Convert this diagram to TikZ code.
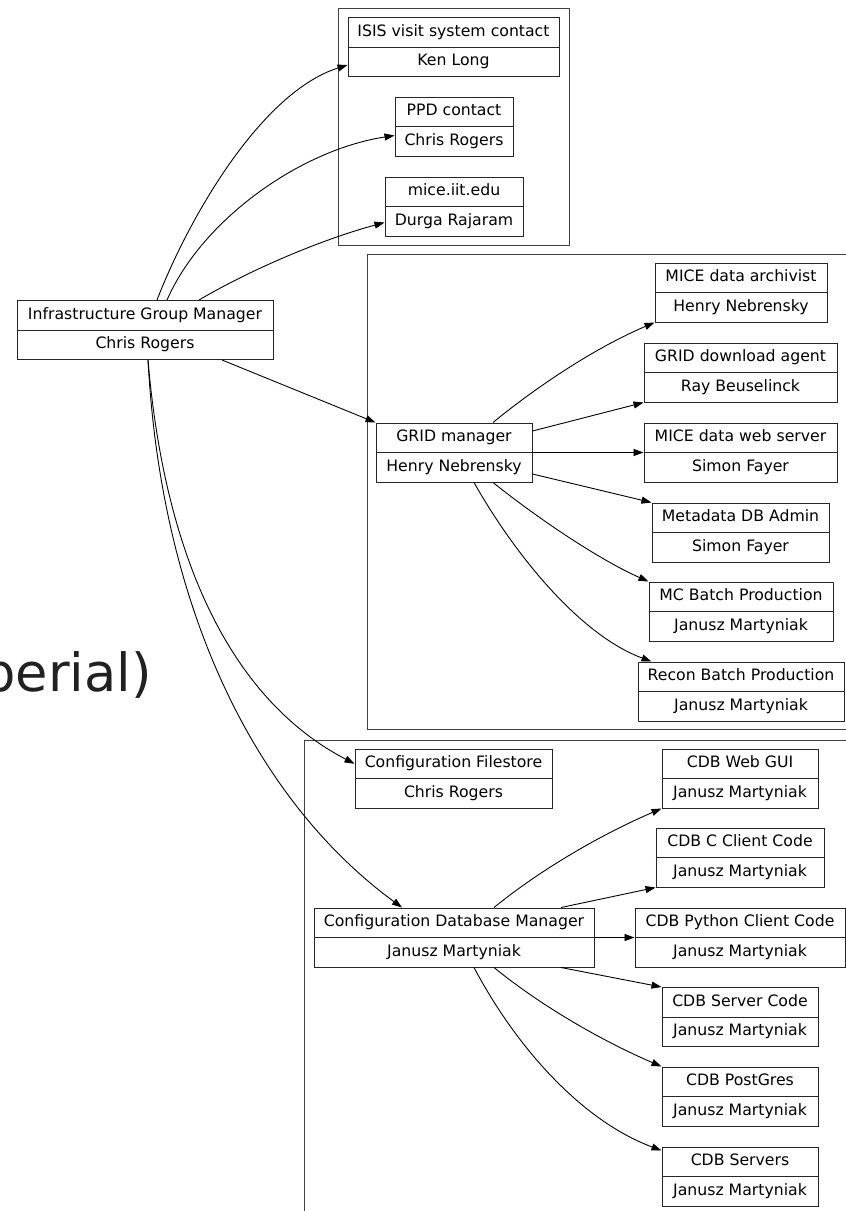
\documentclass[tikz,border=0pt]{standalone}
\usepackage{fontspec}
\setmainfont{DejaVu Sans}
\usetikzlibrary{arrows.meta,calc}
\tikzset{
  recbox/.style={draw=black!85, line width=1pt, minimum height=59pt, inner sep=0pt, fill=white},
  recline/.style={draw=black!85, line width=1pt},
  rectxt/.style={inner sep=0pt, anchor=base, font=\fontsize{15.7pt}{18pt}\selectfont},
  cluster/.style={draw=black!75, line width=1pt},
  edge/.style={line width=0.9pt, -{Triangle[length=10pt,width=7pt]}},
  bigtxt/.style={inner sep=0pt, anchor=base east, text=black!87, font=\fontsize{52.6pt}{60pt}\selectfont},
}
\newcommand\recnode[6]{%
  \node[recbox, minimum width=#4pt] (#1) at (#2,#3) {};
  \draw[recline] (#1.west) -- (#1.east);
  \node[rectxt] (#1-a) at ([yshift=10.75pt]#1.center) {#5};
  \node[rectxt] (#1-b) at ([yshift=-18.75pt]#1.center) {#6};
}
\begin{document}
\begin{tikzpicture}[x=1pt,y=-1pt]
\useasboundingbox (0,0) rectangle (846,1211);
\clip (0,0) rectangle (846,1211);
\fill[white] (0,0) rectangle (846,1211);

% clusters
\draw[cluster] (338.5,8.5) rectangle (569,245.5);
\draw[cluster] (900,254.5) -- (367,254.5) -- (367,729.5) -- (900,729.5);
\draw[cluster] (900,740) -- (304,740) -- (304,1260);

% partial large text
\node[bigtxt] (cut) at (152,691) {perial)};

% records
\recnode{igm}{145}{330}{256}{Infrastructure Group Manager}{Chris Rogers}
\recnode{isis}{453.5}{47}{211}{ISIS visit system contact}{Ken Long}
\recnode{ppd}{454}{126.5}{118}{PPD contact}{Chris Rogers}
\recnode{mice}{454}{206.5}{138}{mice.iit.edu}{Durga Rajaram}

\recnode{grid}{454}{452.5}{156}{GRID manager}{Henry Nebrensky}
\recnode{arch}{741}{292.5}{172}{MICE data archivist}{Henry Nebrensky}
\recnode{dl}{740.5}{372.5}{193}{GRID download agent}{Ray Beuselinck}
\recnode{web}{740.5}{452.5}{193}{MICE data web server}{Simon Fayer}
\recnode{meta}{740.5}{532.5}{177}{Metadata DB Admin}{Simon Fayer}
\recnode{mc}{741}{611.5}{184}{MC Batch Production}{Janusz Martyniak}
\recnode{recon}{741}{691.5}{206}{Recon Batch Production}{Janusz Martyniak}

\recnode{fs}{453.5}{778.5}{197}{Configuration Filestore}{Chris Rogers}
\recnode{dbm}{454}{937.5}{280}{Configuration Database Manager}{Janusz Martyniak}
\recnode{gui}{740}{778.5}{156}{CDB Web GUI}{Janusz Martyniak}
\recnode{cc}{740}{857.5}{168}{CDB C Client Code}{Janusz Martyniak}
\recnode{py}{740}{937.5}{210}{CDB Python Client Code}{Janusz Martyniak}
\recnode{srv}{740}{1017}{156}{CDB Server Code}{Janusz Martyniak}
\recnode{pg}{740}{1096.5}{156}{CDB PostGres}{Janusz Martyniak}
\recnode{svs}{740}{1176.5}{156}{CDB Servers}{Janusz Martyniak}

% edges from Infrastructure Group Manager
\draw[edge] ([xshift=12pt]igm.north) .. controls (190,215) and (262,92) .. ([yshift=-18pt]isis.west);
\draw[edge] ([xshift=22pt]igm.north) .. controls (202,220) and (300,150) .. ([yshift=-9pt]ppd.west);
\draw[edge] ([xshift=54pt]igm.north) .. controls (250,270) and (320,240) .. ([yshift=-16pt]mice.west);
\draw[edge] ([xshift=77pt]igm.south) -- (grid.north west);
\draw[edge] ([xshift=3pt]igm.south) .. controls (165,560) and (232,700) .. ([yshift=14.75pt]fs.west);
\draw[edge] ([xshift=3pt]igm.south) .. controls (162,620) and (262,805) .. ([xshift=-52pt]dbm.north);

% edges from GRID manager
\draw[edge] ([xshift=39pt]grid.north) .. controls (530,392) and (590,350) .. (arch.south west);
\draw[edge] ([yshift=21.5pt]grid.east) -- (dl.south west);
\draw[edge] (grid.east) -- (web.west);
\draw[edge] ([yshift=-21.5pt]grid.east) -- (meta.north west);
\draw[edge] ([xshift=39pt]grid.south) .. controls (540,520) and (600,560) .. (mc.north west);
\draw[edge] ([xshift=20pt]grid.south) .. controls (515,555) and (580,635) .. ([xshift=14pt]recon.north west);

% edges from Configuration Database Manager
\draw[edge] ([xshift=40pt]dbm.north) .. controls (540,870) and (600,835) .. (gui.south west);
\draw[edge] ([xshift=107pt]dbm.north) -- (cc.south west);
\draw[edge] (dbm.east) -- (py.west);
\draw[edge] ([xshift=107pt]dbm.south) -- (srv.north west);
\draw[edge] ([xshift=40pt]dbm.south) .. controls (540,1005) and (600,1040) .. (pg.north west);
\draw[edge] ([xshift=20pt]dbm.south) .. controls (515,1045) and (580,1120) .. ([yshift=-4pt]svs.north west);
\end{tikzpicture}
\end{document}
